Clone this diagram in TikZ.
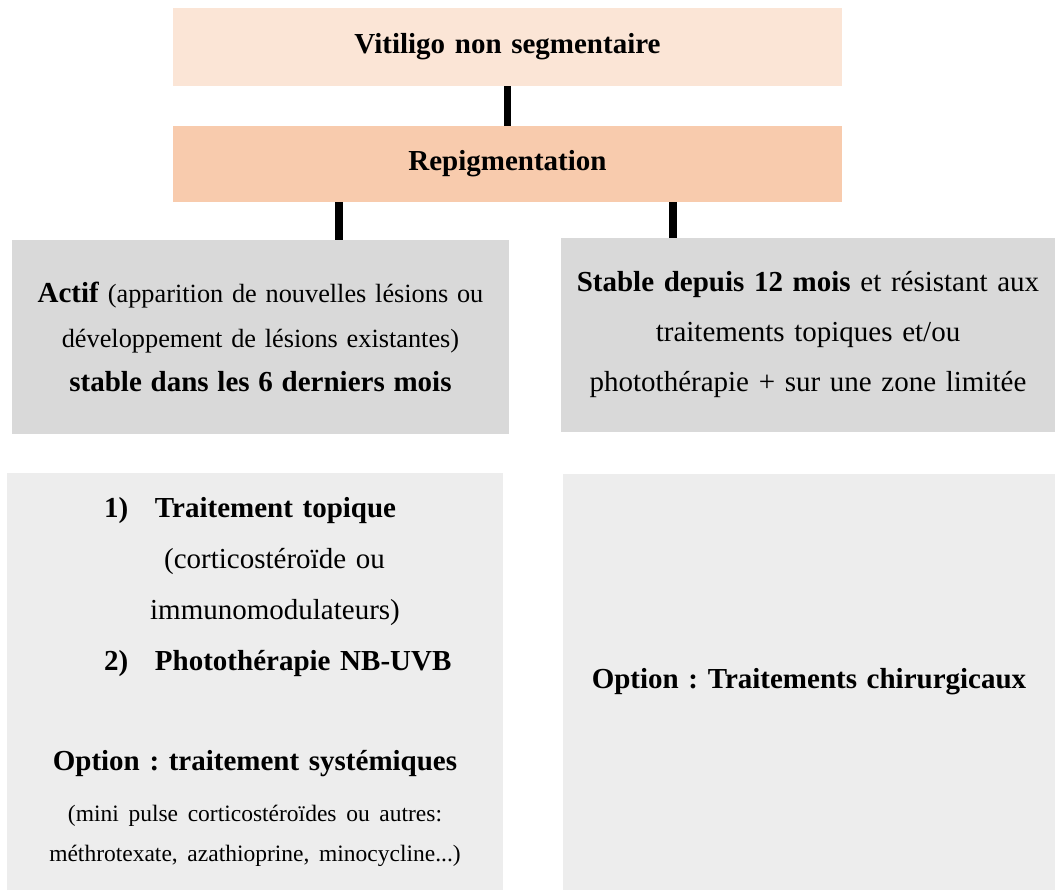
\documentclass[tikz,border=0pt]{standalone}
\usepackage{fontspec}
\setmainfont{Liberation Serif}
\frenchspacing
\definecolor{peachlight}{HTML}{FBE5D6}
\definecolor{peach}{HTML}{F8CBAD}
\definecolor{greybox}{HTML}{D9D9D9}
\definecolor{greylight}{HTML}{EDEDED}
\tikzset{
    box/.style={
        inner sep=0pt,
        align=center,
        font=\fontsize{29}{50}\selectfont
    },
    line/.style={
        line width=7.5pt
    }
}
\newcommand{\itemline}[2]{\makebox[302pt][l]{\makebox[51pt][l]{\textbf{#1}}\textbf{#2}}}
\newcommand{\boldbig}[1]{{\fontsize{29}{44.5}\selectfont\textbf{#1}}}

\begin{document}
\begin{tikzpicture}[x=1pt, y=-1pt]
    \useasboundingbox (0, 0) rectangle (1055, 890);
    % Top:
    \node [box, fill=peachlight, minimum width=669pt, minimum height=78pt, text width=669pt] (vitiligo) at (507.5, 47) {\textbf{Vitiligo non segmentaire}};
    \node [box, fill=peach, minimum width=669pt, minimum height=76pt, text width=669pt] (repig) at (507.5, 164) {\textbf{Repigmentation}};
    % Stages:
    \node [box, fill=greybox, minimum width=497pt, minimum height=194pt, text width=497pt, font=\fontsize{26.3}{44.5}\selectfont] (actif) at (260.5, 337) {\boldbig{Actif} (apparition de nouvelles lésions ou\\ développement de lésions existantes)\\ \boldbig{stable dans les 6 derniers mois}};
    \node [box, fill=greybox, minimum width=494pt, minimum height=194pt, text width=494pt] (stable) at (808, 335) {\textbf{Stable depuis 12 mois} et résistant aux\\ traitements topiques et/ou\\ photothérapie + sur une zone limitée};
    % Treatments:
    \node [box, fill=greylight, minimum width=496pt, minimum height=417pt, text width=496pt, font=\fontsize{29}{51}\selectfont] (topique) at (255, 681.5) {\itemline{1)}{Traitement topique}\\
        \hspace*{39pt}(corticostéroïde ou\\
        \hspace*{40pt}immunomodulateurs)\\
        \itemline{2)}{Photothérapie NB-UVB}\\[49pt]
        \textbf{Option : traitement systémiques}\\
        {\fontsize{23.5}{40}\selectfont (mini pulse corticostéroïdes ou autres:}\\[-11pt]
        {\fontsize{23.5}{40}\selectfont méthrotexate, azathioprine, minocycline...)}};
    \node [box, fill=greylight, minimum width=492pt, minimum height=416pt, text width=492pt] (chirurgie) at (809, 682) {\textbf{Option : Traitements chirurgicaux}};
    % Connectors:
    \draw [line] (vitiligo) -- (repig);
    \draw [line] ([xshift=-168.5pt]repig.south) -- ([xshift=-168.5pt]repig.south |- actif.north);
    \draw [line] ([xshift=165.5pt]repig.south) -- ([xshift=165.5pt]repig.south |- stable.north);
\end{tikzpicture}
\end{document}
